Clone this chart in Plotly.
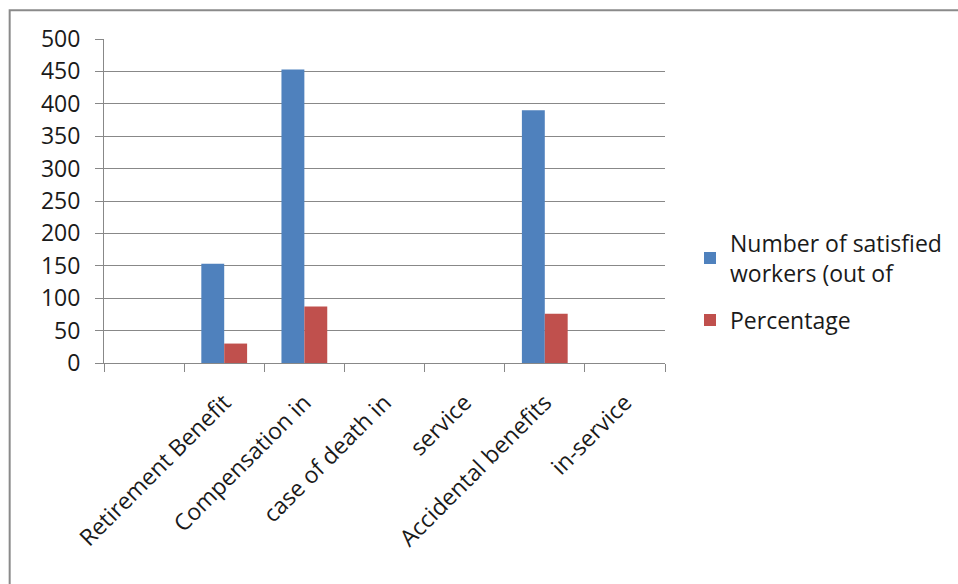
import plotly.graph_objects as go

categories = [" ", "Retirement Benefit", "Compensation in", "case of death in",
              "service", "Accidental benefits", "in-service"]
satisfied = [None, 153, 453, None, None, 390, None]
percentage = [None, 30, 87, None, None, 76, None]
series_names = ["Number of satisfied<br>workers (out of", "Percentage"]
y_ticks = [0, 50, 100, 150, 200, 250, 300, 350, 400, 450, 500]

W, H = 958, 584
L, R, T, B = 104, 666, 39.3, 363.3

FONT = "Open Sans"
FS = 23
TXT = "#1a1a1a"
GRID = "#888888"

fig = go.Figure()
fig.add_trace(go.Bar(x=categories, y=satisfied, name=series_names[0],
                     legendgroup="g1",
                     marker=dict(color="#4F81BD", line=dict(width=0))))
fig.add_trace(go.Bar(x=categories, y=percentage, name=series_names[1],
                     legendgroup="g2",
                     marker=dict(color="#C0504D", line=dict(width=0))))

fig.update_layout(
    width=W, height=H,
    margin=dict(l=L, r=W - R, t=T, b=H - B, pad=0),
    paper_bgcolor="white", plot_bgcolor="white",
    barmode="group", bargap=0.4286, bargroupgap=0,
    font=dict(family=FONT, size=FS, color=TXT),
    showlegend=True,
    legend=dict(x=(690 - L) / (R - L), y=(B - 222) / (B - T),
                xanchor="left", yanchor="top",
                font=dict(family=FONT, size=FS, color=TXT),
                bgcolor="rgba(0,0,0,0)", tracegroupgap=14,
                itemwidth=30),
    xaxis=dict(type="category", categoryorder="array", categoryarray=categories,
               tickangle=-45, ticks="outside", tickson="boundaries",
               ticklen=8, tickcolor=GRID, tickwidth=1,
               showline=True, linecolor=GRID, linewidth=1,
               ticklabelstandoff=16,
               showgrid=False, tickfont=dict(family=FONT, size=FS, color=TXT)),
    yaxis=dict(range=[0, 500], tickvals=y_ticks, ticks="outside", ticklen=8,
               tickcolor=GRID, tickwidth=1, showline=True, linecolor=GRID,
               linewidth=1, showgrid=True, gridcolor=GRID, gridwidth=1,
               zeroline=False, ticklabelstandoff=10,
               tickfont=dict(family=FONT, size=FS, color=TXT)),
    shapes=[dict(type="rect", xref="paper", yref="paper",
                 x0=(9.5 - L) / (R - L), x1=(W + 20 - L) / (R - L),
                 y0=(B - (H + 20)) / (B - T), y1=(B - 10.5) / (B - T),
                 line=dict(color="#8a8a8a", width=2), layer="below")],
)

fig.write_html("out.html")
